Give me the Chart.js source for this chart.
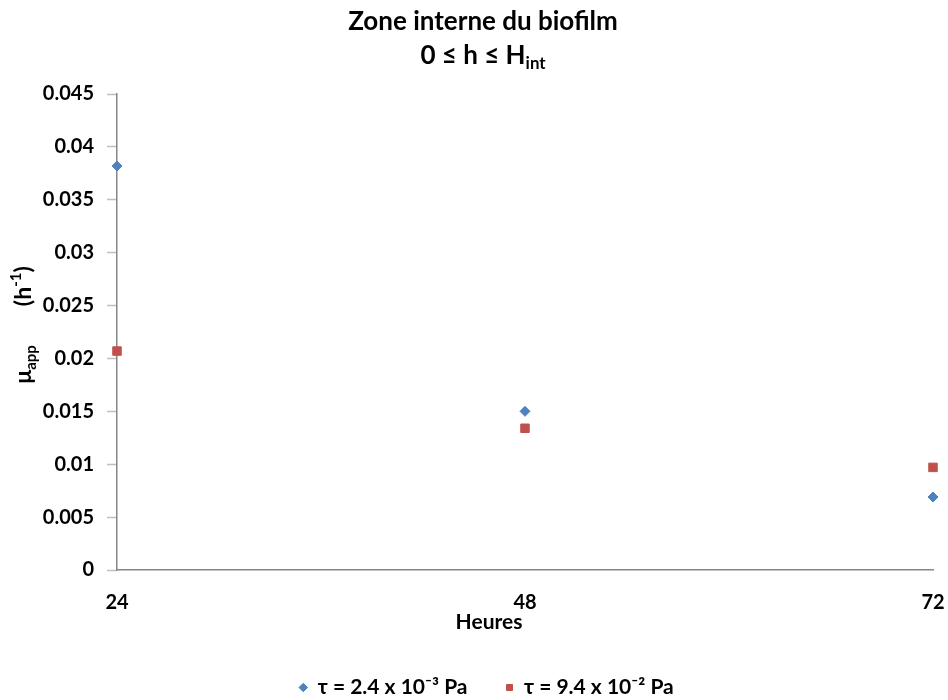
<!DOCTYPE html>
<html>
<head>
<meta charset="utf-8">
<script src="https://cdn.jsdelivr.net/npm/chart.js@4"></script>
<style>
  html, body { margin: 0; padding: 0; background: #fff; overflow: hidden; }
  #wrap { width: 948px; height: 700px; position: relative; }
  canvas { display: block; }
</style>
</head>
<body>
<div id="wrap"><canvas id="chart"></canvas></div>
<script>
// Data
var hours = [24, 48, 72];
var seriesLow = [0.0382, 0.0150, 0.0069];   // tau = 2.4 x 10^-3 Pa
var seriesHigh = [0.0207, 0.0134, 0.0097];  // tau = 9.4 x 10^-2 Pa
var xTicks = [24, 48, 72];
var yTicks = [0, 0.005, 0.01, 0.015, 0.02, 0.025, 0.03, 0.035, 0.04, 0.045];
var seriesNames = ['\u03c4 = 2.4 x 10\u207b\u00b3 Pa', '\u03c4 = 9.4 x 10\u207b\u00b2 Pa'];

var FONT = 'Lato, "Open Sans", sans-serif';
Chart.defaults.font.family = FONT;
Chart.defaults.color = '#000';

var LEGEND_GAP = 38;

function toPoints(vals) {
    return hours.map(function (h, i) { return { x: h, y: vals[i] }; });
}

// draws a line of text made of pieces, some raised or lowered, centred on x
function richText(ctx, parts, x, y, size) {
    var total = 0;
    parts.forEach(function (p) {
        ctx.font = 'bold ' + (p.s ? size * 0.65 : size) + 'px ' + FONT;
        p.w = ctx.measureText(p.t).width;
        total += p.w;
    });
    var cx = x - total / 2;
    parts.forEach(function (p) {
        ctx.font = 'bold ' + (p.s ? size * 0.65 : size) + 'px ' + FONT;
        var dy = p.s === 'sub' ? size * 0.3 : (p.s === 'sup' ? -size * 0.35 : 0);
        ctx.fillText(p.t, cx, y + dy);
        cx += p.w;
    });
}

var titles = {
    id: 'titles',
    beforeInit: function (chart) {
        // keep the legend row short so it sits near the bottom edge
        var fit = chart.legend.fit;
        chart.legend.fit = function () {
            fit.call(this);
            this.height = 30;
        };
    },
    afterLayout: function (chart) {
        // legend padding also pushes the row down; pull it back up
        chart.legend.top -= LEGEND_GAP - 7;
        chart.legend.left += 20;
        chart.legend.right += 20;
    },
    afterDraw: function (chart) {
        var ctx = chart.ctx;
        ctx.save();
        ctx.fillStyle = '#000';
        ctx.textBaseline = 'middle';
        ctx.textAlign = 'left';
        richText(ctx, [{ t: 'Zone interne du biofilm' }], 483, 22, 26);
        richText(ctx, [{ t: '0 \u2264 h \u2264 H' }, { t: 'int', s: 'sub' }], 483, 56, 26);
        richText(ctx, [{ t: 'Heures' }], 489, 622, 21);
        ctx.translate(24, 325);
        ctx.rotate(-Math.PI / 2);
        richText(ctx, [{ t: '\u03bc' }, { t: 'app', s: 'sub' }, { t: '       (h' }, { t: '-1', s: 'sup' }, { t: ')' }], 0, 0, 23);
        ctx.restore();
    }
};

new Chart(document.getElementById('chart').getContext('2d'), {
    type: 'scatter',
    data: {
        datasets: [{
            label: seriesNames[0],
            data: toPoints(seriesLow),
            backgroundColor: '#4F81BD',
            borderColor: '#4F81BD',
            pointStyle: 'rectRot',
            pointRadius: 5,
            clip: false
        }, {
            label: seriesNames[1],
            data: toPoints(seriesHigh),
            backgroundColor: '#C0504D',
            borderColor: '#C0504D',
            pointStyle: 'rect',
            pointRadius: 6,
            clip: false
        }]
    },
    options: {
        responsive: true,
        maintainAspectRatio: false,
        animation: false,
        events: [],
        layout: { autoPadding: false, padding: { top: 94, right: 15, left: 0, bottom: 0 } },
        plugins: {
            title: { display: false },
            tooltip: { enabled: false },
            legend: {
                position: 'bottom',
                labels: {
                    usePointStyle: true,
                    boxWidth: 8,
                    boxHeight: 6,
                    padding: LEGEND_GAP,
                    font: { size: 21, weight: 'bold' }
                }
            }
        },
        scales: {
            x: {
                type: 'linear',
                min: xTicks[0],
                max: xTicks[xTicks.length - 1],
                afterBuildTicks: function (s) { s.ticks = xTicks.map(function (v) { return { value: v }; }); },
                afterFit: function (s) { s.height = 100; s.paddingLeft = 0; s.paddingRight = 0; },
                grid: { display: false },
                border: { display: true, color: '#868686', width: 1.5 },
                ticks: { padding: 13, maxRotation: 0, font: { size: 20, weight: 'bold' } }
            },
            y: {
                min: yTicks[0],
                max: yTicks[yTicks.length - 1],
                afterBuildTicks: function (s) { s.ticks = yTicks.map(function (v) { return { value: v }; }); },
                afterFit: function (s) { s.width = 117; s.paddingTop = 0; s.paddingBottom = 0; },
                grid: { display: true, drawOnChartArea: false, drawTicks: true, tickLength: 10, tickColor: '#bfbfbf', tickWidth: 1.5 },
                border: { display: true, color: '#868686', width: 1.5 },
                ticks: {
                    padding: 13,
                    font: { size: 20, weight: 'bold' },
                    callback: function (v) { return String(+v.toFixed(3)); }
                }
            }
        }
    },
    plugins: [titles]
});
</script>
</body>
</html>
